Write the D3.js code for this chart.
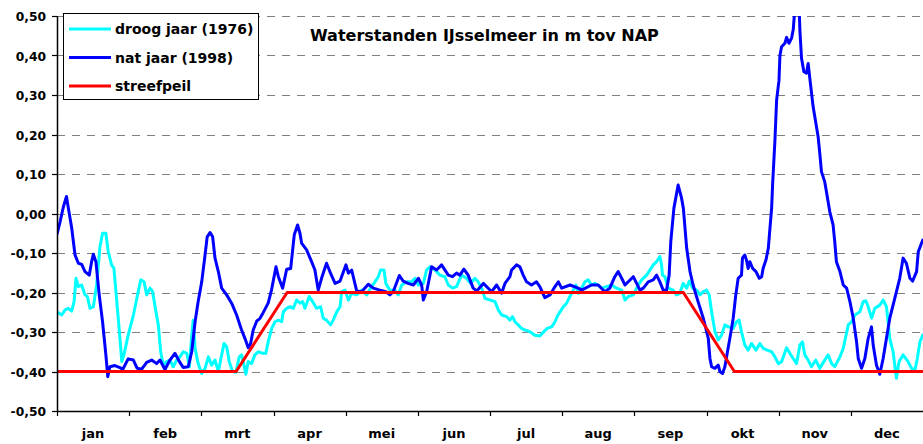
<!DOCTYPE html>
<html>
<head>
<meta charset="utf-8">
<script src="https://cdn.jsdelivr.net/npm/d3@7"></script>
<style>
  html, body { margin: 0; padding: 0; background: #fff; }
  svg { display: block; }
  text { font-family: "DejaVu Sans", Verdana, sans-serif; font-weight: bold; fill: #000; }
</style>
</head>
<body>
<svg id="chart" width="923" height="444"></svg>
<script>
const title = "Waterstanden IJsselmeer in m tov NAP";
const months = ["jan","feb","mrt","apr","mei","jun","jul","aug","sep","okt","nov","dec"];
const yTicks = [0.5,0.4,0.3,0.2,0.1,0.0,-0.1,-0.2,-0.3,-0.4,-0.5];
const seriesNames = ["droog jaar (1976)","nat jaar (1998)","streefpeil"];
const seriesColors = ["#00ffff","#0000ff","#ff0000"];

// [day of year, level (m tov NAP)]
const droog = [
[0,-0.249],[2,-0.257],[3.4,-0.244],[4.8,-0.24],[6.2,-0.247],[7.2,-0.223],[8,-0.164],[9,-0.185],[10.4,-0.181],[11.8,-0.206],
[12.8,-0.21],[13.9,-0.24],[15.3,-0.236],[16.7,-0.181],[18.1,-0.084],[19.2,-0.05],[20.6,-0.05],[21.6,-0.097],[23,-0.13],[24,-0.139],
[25.2,-0.223],[26.3,-0.299],[27.3,-0.375],[28.2,-0.358],[30,-0.308],[32.2,-0.257],[33.8,-0.21],[35.3,-0.168],[36.7,-0.173],[37.8,-0.206],
[39.2,-0.189],[40.3,-0.198],[41.7,-0.249],[42.7,-0.282],[43.7,-0.35],[44.8,-0.384],[46.2,-0.375],[47.6,-0.371],[49,-0.388],[50.4,-0.371],
[51.8,-0.363],[53.2,-0.35],[54.7,-0.354],[55.8,-0.388],[56.8,-0.308],[57.4,-0.27],[58.2,-0.342],[59.5,-0.38],[61,-0.405],[62.4,-0.392],
[63.8,-0.363],[65.2,-0.384],[66.6,-0.371],[68,-0.4],[69.4,-0.358],[70.4,-0.329],[71.5,-0.337],[72.6,-0.375],[74,-0.4],[75.4,-0.402],
[76.8,-0.363],[77.8,-0.358],[78.5,-0.375],[79.6,-0.407],[80.6,-0.375],[82,-0.38],[83.4,-0.358],[84.8,-0.35],[86.9,-0.354],[88,-0.354],
[89,-0.325],[90.5,-0.291],[91.9,-0.274],[93.3,-0.27],[94.7,-0.274],[95.4,-0.249],[96.8,-0.24],[98.2,-0.236],[99.6,-0.24],[101,-0.219],
[102.4,-0.227],[103.5,-0.223],[104.5,-0.24],[106.3,-0.21],[107.7,-0.223],[109.4,-0.24],[111.1,-0.236],[112.2,-0.265],[113.6,-0.27],[115.3,-0.282],
[116.4,-0.27],[117.9,-0.249],[119.3,-0.236],[120,-0.198],[121.4,-0.194],[122.8,-0.219],[124.2,-0.202],[126.3,-0.206],[128.4,-0.194],[130.5,-0.206],
[132.6,-0.185],[134,-0.173],[135.4,-0.16],[136.4,-0.143],[137.8,-0.143],[138.6,-0.177],[140.3,-0.194],[142.4,-0.194],[143.8,-0.206],[145.3,-0.181],
[147.4,-0.173],[149.5,-0.173],[150.9,-0.164],[152.3,-0.181],[154.4,-0.177],[155.8,-0.143],[157.2,-0.135],[159.3,-0.143],[161.4,-0.156],[163.5,-0.16],
[164.9,-0.181],[166.7,-0.189],[168.4,-0.185],[170.5,-0.156],[172.6,-0.164],[174.3,-0.177],[176.1,-0.164],[177.5,-0.173],[179,-0.189],[180.4,-0.215],
[182.5,-0.219],[184.6,-0.223],[186,-0.244],[187.4,-0.257],[189.5,-0.261],[190.9,-0.27],[192,-0.261],[193,-0.274],[194.4,-0.282],[195.8,-0.291],
[197.2,-0.295],[199.3,-0.299],[201.4,-0.308],[203.5,-0.31],[205.2,-0.299],[206.6,-0.291],[208.5,-0.287],[209.9,-0.274],[210.8,-0.261],[212,-0.249],
[213.4,-0.236],[214.8,-0.227],[216.2,-0.21],[217.6,-0.194],[218.7,-0.181],[219.7,-0.202],[221.1,-0.189],[222.5,-0.173],[223.9,-0.168],[225.3,-0.181],
[226.7,-0.177],[228.1,-0.181],[229.5,-0.189],[231.6,-0.185],[233.8,-0.181],[235.9,-0.189],[238,-0.194],[239.4,-0.219],[240.8,-0.21],[242.9,-0.206],
[245,-0.181],[246.4,-0.168],[248.5,-0.156],[249.9,-0.143],[251.3,-0.13],[252.7,-0.122],[254.1,-0.109],[254.8,-0.13],[255.2,-0.156],[256.2,-0.16],
[257.6,-0.189],[259.7,-0.194],[261.1,-0.206],[262.5,-0.202],[263.9,-0.177],[265.4,-0.189],[266.5,-0.171],[267.9,-0.189],[269.6,-0.194],[271,-0.206],
[272.4,-0.198],[273.8,-0.194],[274.9,-0.206],[275.9,-0.249],[277.3,-0.299],[278.7,-0.32],[280.1,-0.308],[281.5,-0.282],[282.9,-0.287],[285,-0.291],
[286.4,-0.274],[287.5,-0.27],[288.5,-0.299],[289.9,-0.333],[291.3,-0.346],[292.7,-0.329],[294.6,-0.346],[296.2,-0.329],[297.6,-0.341],[299.3,-0.346],
[301.2,-0.35],[302.6,-0.363],[304,-0.38],[305.4,-0.375],[307.5,-0.34],[308.9,-0.354],[310.3,-0.367],[311.7,-0.38],[313.1,-0.333],[314.2,-0.325],
[315.2,-0.358],[316.6,-0.371],[318,-0.388],[319.8,-0.371],[321.5,-0.392],[323.2,-0.375],[325,-0.358],[326.5,-0.38],[327.8,-0.388],[330,-0.363],
[331.4,-0.341],[333.5,-0.282],[334.9,-0.274],[336.3,-0.257],[338.4,-0.249],[339.8,-0.223],[340.9,-0.221],[341.9,-0.236],[343.3,-0.265],[344.7,-0.24],
[346.8,-0.232],[348.2,-0.219],[349.6,-0.236],[351,-0.316],[352.4,-0.35],[353.8,-0.417],[354.9,-0.375],[356.6,-0.358],[358.7,-0.375],[360.2,-0.392],
[361.6,-0.396],[362.6,-0.367],[363.7,-0.325],[364.9,-0.308]
];

const nat = [
[0,-0.052],[1.3,-0.021],[2.7,0.017],[4,0.043],[4.8,0.013],[6.2,-0.037],[7.6,-0.105],[9,-0.126],[10.4,-0.129],[11.8,-0.147],
[13.6,-0.156],[14.6,-0.122],[15.3,-0.103],[16.4,-0.122],[17.8,-0.206],[19.2,-0.274],[20.6,-0.358],[21.4,-0.413],[22.3,-0.388],[24.4,-0.385],
[26.5,-0.39],[27.7,-0.395],[30,-0.368],[32.2,-0.371],[33.8,-0.392],[35.7,-0.394],[37.8,-0.377],[39.9,-0.371],[42,-0.38],[43.4,-0.371],
[45.5,-0.395],[47.6,-0.371],[49.7,-0.354],[51.8,-0.377],[53.2,-0.39],[55.3,-0.388],[56.8,-0.35],[58.2,-0.274],[59.5,-0.223],[61,-0.173],
[62.4,-0.105],[63.3,-0.059],[64.5,-0.048],[65.6,-0.059],[66.6,-0.113],[68,-0.147],[69.4,-0.189],[71.5,-0.206],[73.6,-0.227],[75.7,-0.257],
[77.8,-0.295],[79.2,-0.316],[80.6,-0.34],[81.6,-0.329],[82.7,-0.295],[84.2,-0.272],[85.5,-0.266],[86.9,-0.251],[89,-0.227],[90.4,-0.194],
[92.3,-0.135],[93.3,-0.16],[95.1,-0.189],[96.8,-0.141],[98.5,-0.139],[100,-0.054],[101.4,-0.029],[102.4,-0.05],[103.1,-0.075],[105.2,-0.092],
[107.3,-0.122],[108.7,-0.143],[110.1,-0.194],[111.5,-0.164],[113.6,-0.126],[115,-0.147],[117.2,-0.177],[119.3,-0.171],[121.8,-0.13],[122.8,-0.151],
[124.2,-0.143],[126.3,-0.196],[128.4,-0.198],[131.2,-0.179],[133.3,-0.189],[136.1,-0.194],[138.6,-0.198],[140.3,-0.206],[141.7,-0.198],[144.3,-0.157],
[145.9,-0.171],[148,-0.177],[150.2,-0.181],[152.3,-0.164],[153.7,-0.181],[154.4,-0.219],[155.8,-0.198],[157.9,-0.135],[160,-0.143],[162.1,-0.13],
[164.9,-0.156],[166.7,-0.16],[168.4,-0.151],[169.8,-0.156],[171.5,-0.141],[173.3,-0.156],[175.4,-0.189],[176.9,-0.196],[179.7,-0.177],[183.2,-0.198],
[185.3,-0.181],[187.4,-0.202],[188.8,-0.177],[190.9,-0.16],[191.6,-0.143],[193.7,-0.13],[195.1,-0.135],[196.5,-0.156],[197.9,-0.173],[200,-0.181],
[202.1,-0.173],[203.5,-0.185],[205.6,-0.213],[207.8,-0.206],[209.9,-0.185],[211.3,-0.173],[212.7,-0.189],[216.2,-0.181],[219.7,-0.189],[221.1,-0.194],
[225.3,-0.181],[228.1,-0.181],[230.9,-0.198],[233,-0.189],[235.1,-0.16],[236.5,-0.147],[238,-0.164],[239.4,-0.181],[242.9,-0.16],[245.7,-0.194],
[247.1,-0.189],[249.2,-0.173],[251.3,-0.168],[252.7,-0.156],[254.1,-0.173],[255.5,-0.194],[256.9,-0.194],[258,-0.156],[258.7,-0.071],[260,0.013],
[261.8,0.072],[263.2,0.04],[264,0.013],[265.4,-0.088],[266.8,-0.147],[268.1,-0.181],[270.2,-0.223],[272.4,-0.265],[274.5,-0.316],[275.2,-0.367],
[275.9,-0.388],[277.3,-0.392],[278.7,-0.384],[279.4,-0.4],[280.5,-0.405],[281.5,-0.388],[282.2,-0.363],[283.6,-0.316],[285,-0.265],[286.1,-0.206],
[287.1,-0.164],[288.5,-0.156],[288.9,-0.113],[289.9,-0.105],[290.6,-0.118],[291.3,-0.139],[292,-0.122],[293.2,-0.139],[294.6,-0.147],[296,-0.164],
[297,-0.16],[297.6,-0.139],[298.8,-0.118],[299.8,-0.088],[300.5,-0.037],[301.2,0.013],[301.6,0.072],[302.6,0.186],[303.3,0.287],[304.3,0.337],
[304.7,0.4],[305.4,0.422],[306.8,0.431],[307.5,0.446],[308.5,0.431],[309.6,0.444],[310.3,0.465],[311,0.52],[312.8,0.52],[313.1,0.465],
[313.8,0.393],[314.8,0.359],[315.9,0.355],[316.6,0.38],[317.3,0.342],[318.7,0.27],[320.8,0.194],[321.5,0.152],[322.2,0.106],[323.6,0.08],
[324.3,0.055],[325.7,0.005],[327.1,-0.029],[327.8,-0.071],[328.5,-0.122],[330,-0.147],[331.4,-0.181],[332.8,-0.189],[334.2,-0.223],[335.6,-0.265],
[337,-0.325],[337.7,-0.367],[339.1,-0.392],[340.5,-0.367],[341.9,-0.316],[343.3,-0.287],[344,-0.333],[345.4,-0.384],[346.8,-0.407],[348.2,-0.367],
[349.6,-0.316],[351,-0.265],[353.1,-0.215],[355.2,-0.164],[356.6,-0.113],[358,-0.126],[359.5,-0.164],[360.6,-0.171],[362.3,-0.147],[363,-0.097],
[364.9,-0.067]
];

const streefpeil = [[0,-0.4],[75.5,-0.4],[97,-0.2],[264,-0.2],[285.5,-0.4],[365,-0.4]];

const W = 923, H = 444;
const plot = {left: 57, right: 923, top: 16, bottom: 411};

const svg = d3.select("#chart");
svg.append("rect").attr("width", W).attr("height", H).attr("fill", "#fff");

const x = d3.scaleLinear().domain([0, 365]).range([plot.left, plot.right]);
const xm = d3.scaleBand().domain(months).range([plot.left, plot.right]);
const y = d3.scaleLinear().domain([-0.5, 0.5]).range([plot.bottom, plot.top]);

const fmt = v => (v < -1e-9 ? "-" : "") + Math.abs(v).toFixed(2).replace(".", ",");

// gridlines
svg.append("g").selectAll("line").data(yTicks.filter(v => v > -0.5)).join("line")
  .attr("x1", plot.left).attr("x2", plot.right)
  .attr("y1", d => Math.round(y(d)) + 0.5).attr("y2", d => Math.round(y(d)) + 0.5)
  .attr("stroke", "#808080").attr("stroke-width", 1.2).attr("stroke-dasharray", "8,7");

// clip
svg.append("clipPath").attr("id", "clip").append("rect")
  .attr("x", plot.left).attr("y", plot.top)
  .attr("width", plot.right - plot.left).attr("height", plot.bottom - plot.top);

const line = d3.line().x(d => x(d[0])).y(d => y(d[1]));
const gLines = svg.append("g").attr("clip-path", "url(#clip)");
[droog, nat, streefpeil].forEach((s, i) => {
  gLines.append("path").datum(s).attr("d", line)
    .attr("fill", "none").attr("stroke", seriesColors[i])
    .attr("stroke-width", 3).attr("stroke-linejoin", "round").attr("stroke-linecap", "round");
});

// y axis
const yAxis = svg.append("g");
yAxis.append("line").attr("x1", plot.left + 0.5).attr("x2", plot.left + 0.5)
  .attr("y1", plot.top).attr("y2", plot.bottom).attr("stroke", "#000").attr("stroke-width", 1.5);
yAxis.selectAll("line.tick").data(yTicks).join("line").attr("class", "tick")
  .attr("x1", plot.left - 5).attr("x2", plot.left)
  .attr("y1", d => Math.round(y(d)) + 0.5).attr("y2", d => Math.round(y(d)) + 0.5)
  .attr("stroke", "#000").attr("stroke-width", 1.2);
yAxis.selectAll("text").data(yTicks).join("text")
  .attr("x", 46).attr("y", d => y(d) + 5)
  .attr("text-anchor", "end").attr("font-size", 12.3).text(fmt);

// x axis
const xAxis = svg.append("g");
xAxis.append("line").attr("x1", plot.left).attr("x2", plot.right)
  .attr("y1", plot.bottom + 0.5).attr("y2", plot.bottom + 0.5).attr("stroke", "#000").attr("stroke-width", 1.5);
xAxis.selectAll("line.tick").data(months).join("line").attr("class", "tick")
  .attr("x1", d => Math.round(xm(d)) + 0.5).attr("x2", d => Math.round(xm(d)) + 0.5)
  .attr("y1", plot.bottom).attr("y2", plot.bottom + 5)
  .attr("stroke", "#000").attr("stroke-width", 1.2);
xAxis.selectAll("text").data(months).join("text")
  .attr("x", d => xm(d) + xm.bandwidth() / 2).attr("y", 438)
  .attr("text-anchor", "middle").attr("font-size", 13).text(d => d);

// title
svg.append("text").attr("x", 310).attr("y", 41).attr("font-size", 16).text(title);

// legend
const lg = svg.append("g");
lg.append("rect").attr("x", 63.5).attr("y", 13.5).attr("width", 195).attr("height", 86)
  .attr("fill", "#fff").attr("stroke", "#000").attr("stroke-width", 1);
seriesNames.forEach((n, i) => {
  const ly = 29 + i * 28.5;
  lg.append("line").attr("x1", 69).attr("x2", 111).attr("y1", ly).attr("y2", ly)
    .attr("stroke", seriesColors[i]).attr("stroke-width", 3);
  lg.append("text").attr("x", 115).attr("y", ly + 5).attr("font-size", 14).text(n);
});
</script>
</body>
</html>
